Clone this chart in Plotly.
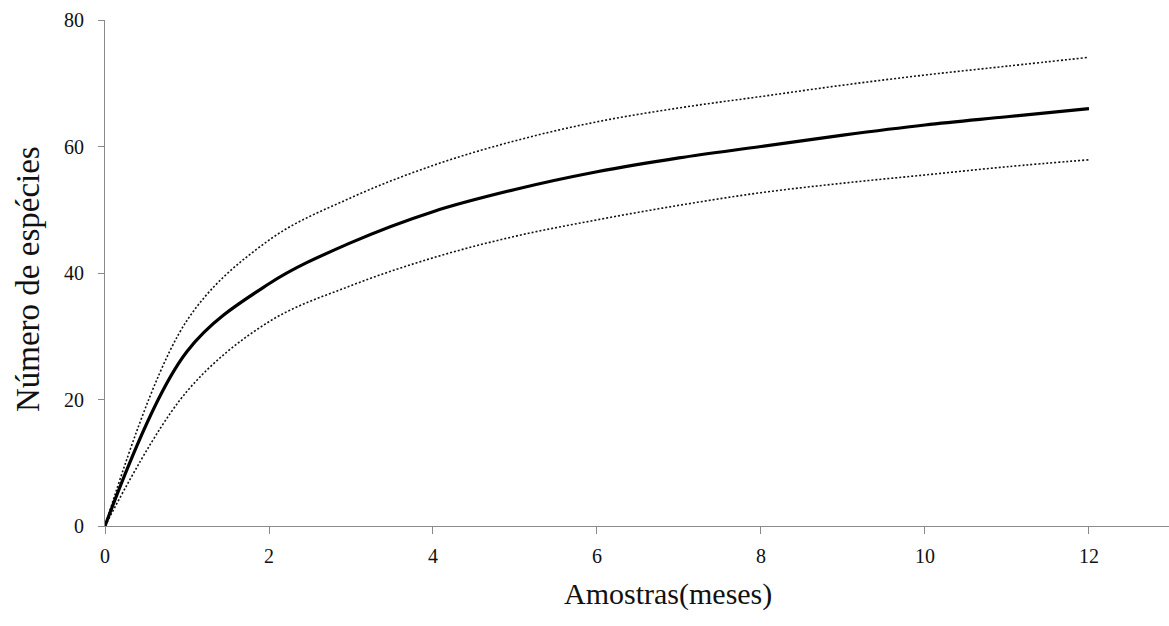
import plotly.graph_objects as go

# Species accumulation curve with confidence bounds
meses = [0, 1, 2, 3, 4, 5, 6, 7, 8, 9, 10, 11, 12]
especies = [0, 27.6, 38.3, 44.8, 49.7, 53.2, 56.0, 58.2, 60.0, 61.8, 63.4, 64.7, 66.0]
limite_superior = [0, 32.5, 45.2, 51.9, 57.0, 60.9, 63.9, 66.1, 67.9, 69.7, 71.3, 72.7, 74.1]
limite_inferior = [0, 21.3, 32.3, 38.0, 42.4, 45.8, 48.4, 50.7, 52.7, 54.2, 55.5, 56.8, 57.9]

x_ticks = [0, 2, 4, 6, 8, 10, 12]
y_ticks = [0, 20, 40, 60, 80]

SERIF = "Liberation Serif, Times New Roman, serif"
AXIS_GREY = "#8a8a8a"

fig = go.Figure()

for bound in (limite_superior, limite_inferior):
    fig.add_trace(go.Scatter(
        x=meses, y=bound, mode="lines",
        line=dict(color="#111111", width=1.6, dash="2px,2px", shape="spline", smoothing=1.0),
        hoverinfo="skip", showlegend=False,
    ))

fig.add_trace(go.Scatter(
    x=meses, y=especies, mode="lines",
    line=dict(color="#000000", width=3.2, shape="spline", smoothing=1.0),
    showlegend=False,
))

fig.update_xaxes(
    range=[0, 12.976], tickvals=x_ticks, ticktext=[str(v) for v in x_ticks],
    showgrid=False, zeroline=False, showline=True, linecolor=AXIS_GREY, linewidth=1,
    ticks="outside", ticklen=7, tickcolor=AXIS_GREY, tickwidth=1,
    tickfont=dict(family=SERIF, size=20, color="#111111"), ticklabelstandoff=5,
)
fig.update_yaxes(
    range=[0, 80], tickvals=y_ticks, ticktext=[str(v) for v in y_ticks],
    showgrid=False, zeroline=False, showline=True, linecolor=AXIS_GREY, linewidth=1,
    ticks="outside", ticklen=6, tickcolor=AXIS_GREY, tickwidth=1,
    tickfont=dict(family=SERIF, size=20, color="#111111"), ticklabelstandoff=10,
)

fig.add_annotation(
    text="Amostras(meses)", xref="paper", yref="paper",
    x=0.529, y=-0.134, xanchor="center", yanchor="middle", showarrow=False,
    font=dict(family=SERIF, size=30, color="#111111"),
)
fig.add_annotation(
    text="Número de espécies", xref="paper", yref="paper",
    x=-0.0724, y=0.488, xanchor="center", yanchor="middle", textangle=-90, showarrow=False,
    font=dict(family=SERIF, size=33, color="#111111"),
)

fig.update_layout(
    width=1169, height=626,
    margin=dict(l=105, r=0, t=20, b=100),
    paper_bgcolor="white", plot_bgcolor="white",
)

fig.write_html("out.html")
